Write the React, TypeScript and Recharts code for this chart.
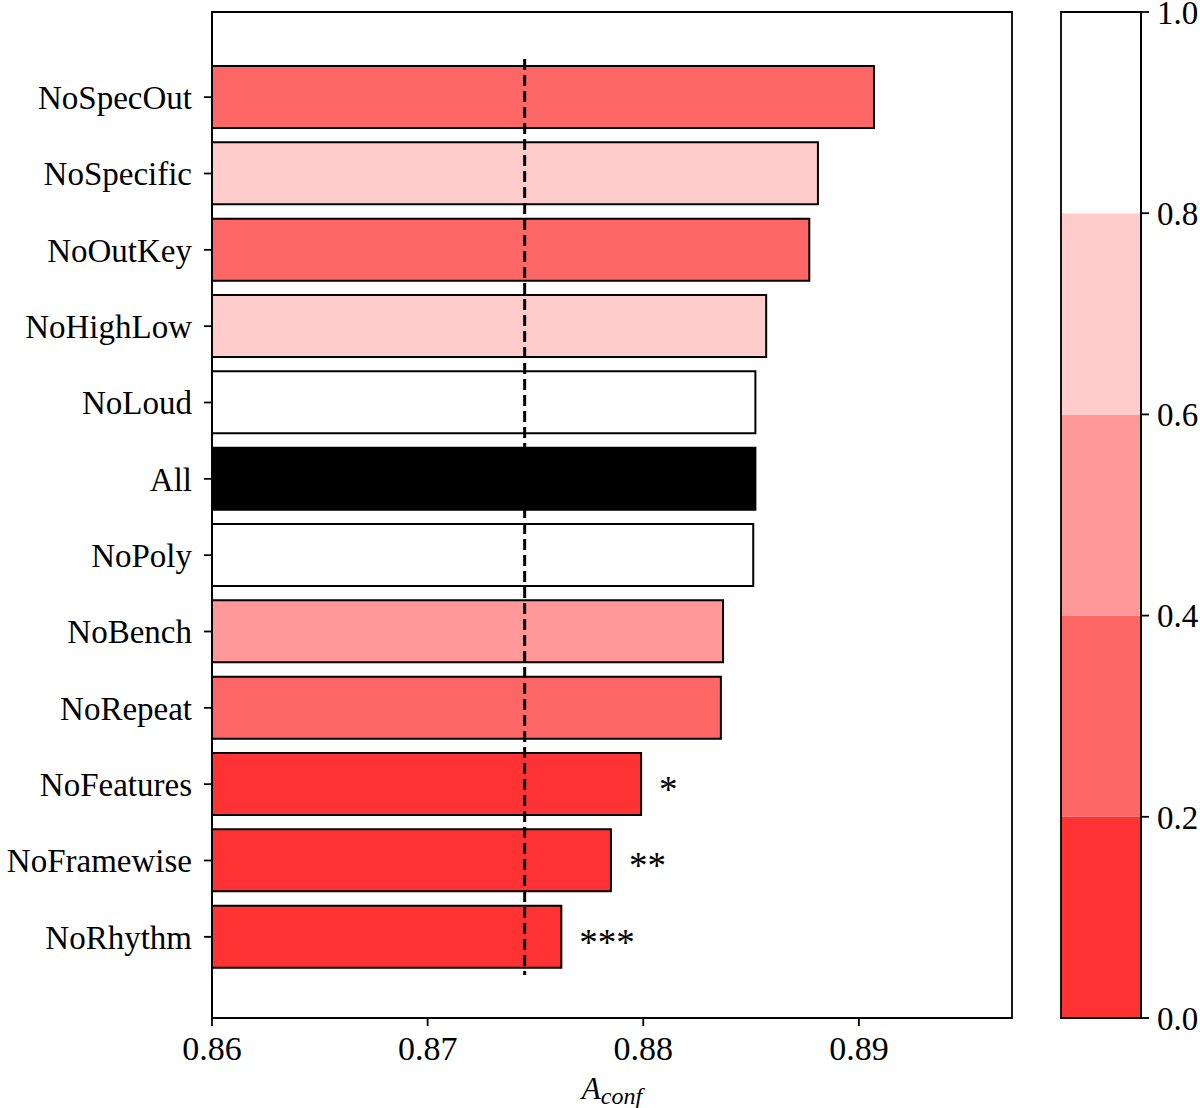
import { ComposedChart, BarChart, Bar, XAxis, YAxis, Cell, LabelList, ReferenceLine, ReferenceArea } from 'recharts';

// ablation variants, top to bottom
const variants = [
  'NoSpecOut', 'NoSpecific', 'NoOutKey', 'NoHighLow', 'NoLoud', 'All',
  'NoPoly', 'NoBench', 'NoRepeat', 'NoFeatures', 'NoFramewise', 'NoRhythm',
];
const aconf = [
  0.8907, 0.8881, 0.8877, 0.8857, 0.8852, 0.8852,
  0.8851, 0.8837, 0.8836, 0.8799, 0.8785, 0.8762,
];
// p-value of each variant vs. All (null = the reference itself)
const pValues = [0.3, 0.7, 0.3, 0.7, 0.9, null, 0.9, 0.5, 0.3, 0.03, 0.005, 0.0005];
const stars = ['', '', '', '', '', '', '', '', '', '*', '**', '***'];
const baselineAconf = 0.8745;

const xTicks = [0.86, 0.87, 0.88, 0.89];
const xDomain = [0.86, 0.8971];

// colorbar bins
const cbBounds = [0, 0.2, 0.4, 0.6, 0.8, 1.0];
const cbColors = ['#ff3333', '#ff6666', '#ff9999', '#ffcccc', '#ffffff'];
const cbTicks = [0, 0.2, 0.4, 0.6, 0.8, 1.0];

const FONT = '"Liberation Serif", "Times New Roman", serif';
const plotTop = 12;
const plotH = 1006;
const padTop = 47;
const padBottom = 43;
const band = (plotH - padTop - padBottom) / variants.length;
const yNumDomain = [-0.5 - padTop / band, variants.length - 0.5 + padBottom / band];

const colorFor = (p: number | null) => {
  if (p === null) return '#000000';
  for (let i = 0; i < cbColors.length; i++) {
    if (p < cbBounds[i + 1]) return cbColors[i];
  }
  return cbColors[cbColors.length - 1];
};

const rows = variants.map((name, i) => ({ name, aconf: aconf[i], stars: stars[i], fill: colorFor(pValues[i]) }));

const cbRow: Record<string, number | string> = { name: 'cb', pos: 0.5 };
cbColors.forEach((_, i) => {
  cbRow['l' + i] = cbBounds[i + 1] - cbBounds[i];
});

const StarLabel = (props: any) => {
  const { x, y, width, height, value } = props;
  if (!value) return null;
  return (
    <text x={x + width + 18} y={y + height / 2 + 18} fontSize={37} fontFamily={FONT} fill="#000">
      {value}
    </text>
  );
};

const XLabel = (props: any) => {
  const { x, width } = props.viewBox;
  return (
    <text x={x + width / 2} y={1099} textAnchor="middle" fontFamily={FONT} fill="#000" fontStyle="italic">
      <tspan fontSize={31}>A</tspan>
      <tspan fontSize={24} dy={5}>conf</tspan>
    </text>
  );
};

const axisLine = { stroke: '#000', strokeWidth: 1.8 };
const tickLine = { stroke: '#000', strokeWidth: 1.8 };

export default function App() {
  return (
    <div style={{ position: 'absolute', left: 0, top: 0, width: 1200, height: 1108, background: '#fff' }}>
      <div style={{ position: 'absolute', left: 0, top: 0 }}>
        <ComposedChart
          layout="vertical"
          width={1040}
          height={1108}
          data={rows}
          margin={{ top: plotTop, right: 28, bottom: 0, left: 0 }}
        >
          <XAxis
            type="number"
            dataKey="aconf"
            domain={xDomain}
            allowDataOverflow
            ticks={xTicks}
            tickFormatter={(v: number) => v.toFixed(2)}
            height={90}
            tickSize={8}
            tickMargin={10}
            axisLine={axisLine}
            tickLine={tickLine}
            tick={{ fill: '#000', fontSize: 34, fontFamily: FONT }}
            label={{ content: XLabel }}
          />
          <YAxis
            type="category"
            dataKey="name"
            width={212}
            padding={{ top: padTop, bottom: padBottom }}
            tickSize={8}
            tickMargin={12}
            axisLine={axisLine}
            tickLine={tickLine}
            tick={{ fill: '#000', fontSize: 33, fontFamily: FONT }}
            interval={0}
          />
          <Bar dataKey="aconf" barSize={62} stroke="#000" strokeWidth={2} isAnimationActive={false}>
            {rows.map((r) => (
              <Cell key={r.name} fill={r.fill} />
            ))}
            <LabelList dataKey="stars" content={StarLabel} />
          </Bar>
        </ComposedChart>
      </div>
      {/* overlay: frame and dashed baseline on a numeric row scale */}
      <div style={{ position: 'absolute', left: 0, top: 0, pointerEvents: 'none' }}>
        <ComposedChart width={1040} height={1108} data={rows} margin={{ top: plotTop, right: 28, bottom: 90, left: 212 }}>
          <XAxis type="number" dataKey="aconf" domain={xDomain} allowDataOverflow hide />
          <YAxis type="number" domain={yNumDomain} allowDataOverflow reversed hide />
          <ReferenceLine
            segment={[
              { x: baselineAconf, y: -0.5 },
              { x: baselineAconf, y: variants.length - 0.5 },
            ]}
            stroke="#000"
            strokeWidth={3}
            strokeDasharray="11 5"
            ifOverflow="visible"
          />
          <ReferenceArea
            x1={xDomain[0]}
            x2={xDomain[1]}
            y1={yNumDomain[0]}
            y2={yNumDomain[1]}
            fill="none"
            fillOpacity={0}
            stroke="#000"
            strokeWidth={1.8}
            ifOverflow="visible"
          />
        </ComposedChart>
      </div>
      <div style={{ position: 'absolute', left: 1051, top: 0 }}>
        <BarChart
          width={149}
          height={1108}
          data={[cbRow]}
          barCategoryGap={0}
          margin={{ top: plotTop, right: 0, bottom: 90, left: 10 }}
        >
          <XAxis dataKey="name" type="category" hide />
          <YAxis
            orientation="right"
            type="number"
            domain={[0, 1]}
            ticks={cbTicks}
            tickFormatter={(v: number) => v.toFixed(1)}
            width={59}
            tickSize={8}
            tickMargin={8}
            axisLine={axisLine}
            tickLine={tickLine}
            tick={{ fill: '#000', fontSize: 33, fontFamily: FONT }}
            interval={0}
          />
          {cbColors.map((c, i) => (
            <Bar key={c} dataKey={'l' + i} stackId="cb" fill={c} isAnimationActive={false} />
          ))}
        </BarChart>
      </div>
      <div style={{ position: 'absolute', left: 1051, top: 0, pointerEvents: 'none' }}>
        <ComposedChart width={149} height={1108} data={[cbRow]} margin={{ top: plotTop, right: 59, bottom: 90, left: 10 }}>
          <XAxis type="number" dataKey="pos" domain={[0, 1]} allowDataOverflow hide />
          <YAxis type="number" dataKey="pos" domain={[0, 1]} allowDataOverflow hide />
          <ReferenceArea
            x1={0}
            x2={1}
            y1={0}
            y2={1}
            fill="none"
            fillOpacity={0}
            stroke="#000"
            strokeWidth={1.8}
            ifOverflow="visible"
          />
        </ComposedChart>
      </div>
    </div>
  );
}
